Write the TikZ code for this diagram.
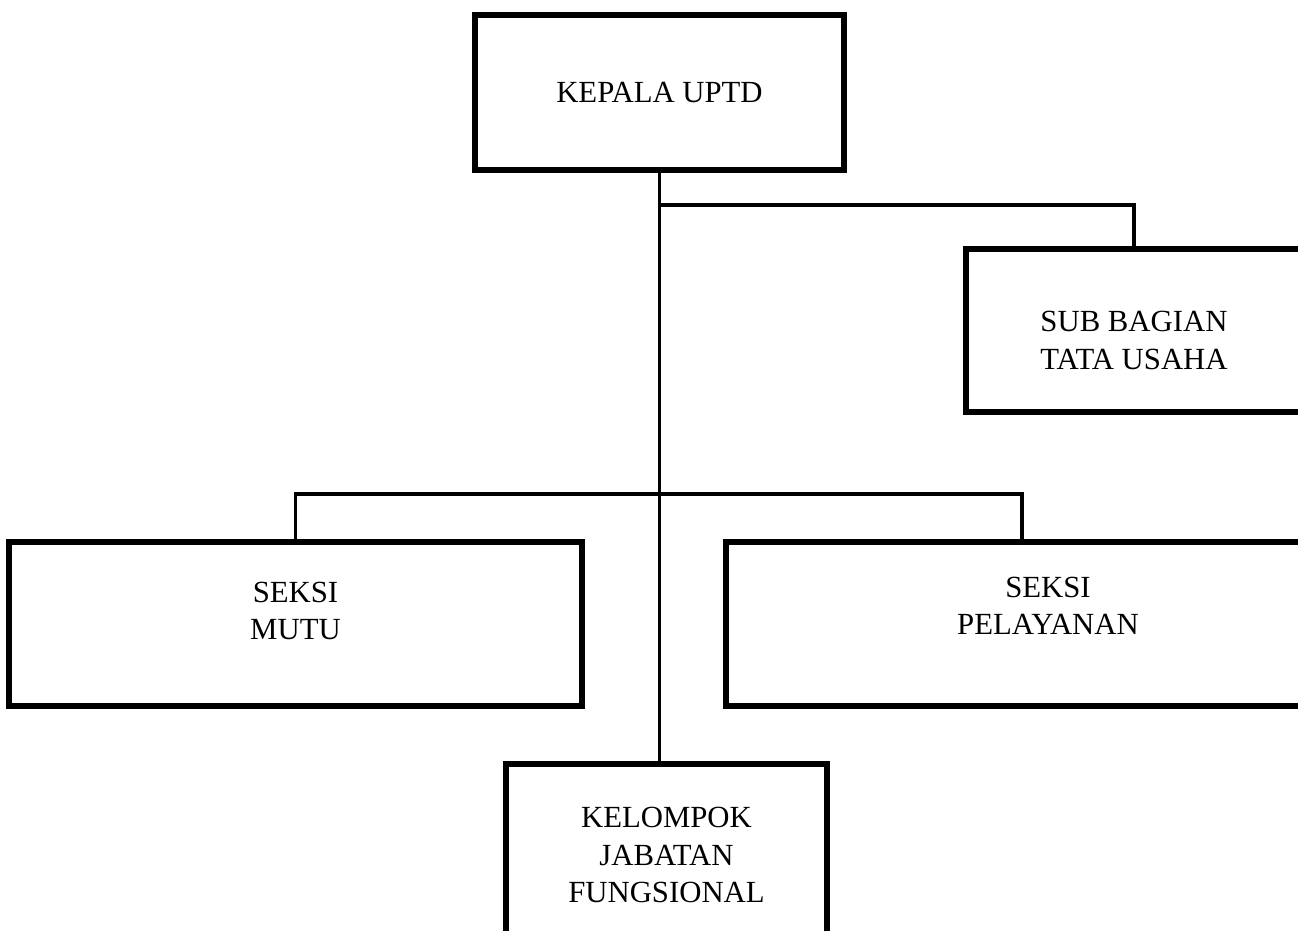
\documentclass[tikz,border=0pt]{standalone}
\usepackage{fontspec}
\setmainfont{Liberation Serif}
\usepackage{tikz}
\usetikzlibrary{positioning,calc}

\begin{document}
\begin{tikzpicture}[
  x=0.02cm,y=-0.02cm,
  unit/.style={draw, line width=3pt, inner sep=0pt},
  unittext/.style={align=center, font=\fontsize{17.5}{21.3}\selectfont},
  link/.style={line width=2.2pt}
]
\useasboundingbox (0,0) rectangle (1298,930);
\clip (0,0) rectangle (1298,930);

% Head of the unit.
\node[unit, minimum width=7.38cm, minimum height=3.10cm,
  label={[unittext]center:{KEPALA UPTD}}] (kepala) at (659.5,92.5) {};

% Staff box on the right.
\node[unit, minimum width=6.72cm, minimum height=3.26cm,
  label={[unittext, yshift=-0.2cm]center:{SUB BAGIAN\\TATA USAHA}}] (tatausaha) at (1134,330.5) {};

% Sections.
\node[unit, minimum width=11.46cm, minimum height=3.28cm,
  label={[unittext, yshift=0.26cm]center:{SEKSI\\MUTU}}] (mutu) at (295.5,624) {};
\node[unit, minimum width=12.88cm, minimum height=3.28cm,
  label={[unittext, yshift=0.36cm]center:{SEKSI\\PELAYANAN}}] (pelayanan) at (1048,624) {};

% Functional group.
\node[unit, minimum width=6.42cm, minimum height=3.64cm,
  label={[unittext]center:{KELOMPOK\\JABATAN\\FUNGSIONAL}}] (fungsional) at (666.5,855) {};

% Lines of command.
\coordinate (staffjoint) at (659.5,205);
\coordinate (sectionbar) at (1022,494);
\draw[link] (kepala.south) -- (kepala.south |- fungsional.north);
\draw[link] (staffjoint) -| (tatausaha.north);
\draw[link] (mutu.north) |- (sectionbar) -- (sectionbar |- pelayanan.north);
\end{tikzpicture}
\end{document}
